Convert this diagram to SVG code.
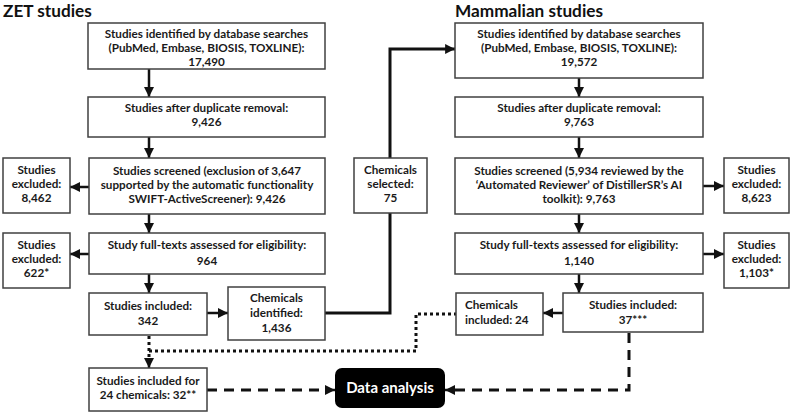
<svg xmlns="http://www.w3.org/2000/svg" width="800" height="413" viewBox="0 0 800 413">
<style>
.box{fill:#fff;stroke:#404040;stroke-width:1.5}
text{font-family:Lato,"Open Sans","Liberation Sans",sans-serif;font-weight:bold;fill:#1a1a1a;font-size:11.7px}
.c{text-anchor:middle}
.title{font-size:17.2px;fill:#111}
.ln{fill:none;stroke:#111;stroke-width:2.5}
.thick{fill:none;stroke:#111;stroke-width:3}
.dash{fill:none;stroke:#111;stroke-width:3;stroke-dasharray:10 7}
.dot{fill:none;stroke:#111;stroke-width:3;stroke-dasharray:3 3}
</style>
<defs>
<marker id="ah" viewBox="0 0 10 10" refX="10" refY="5" markerWidth="4" markerHeight="4" markerUnits="strokeWidth" orient="auto"><path d="M0,0L10,5L0,10z" fill="#111"/></marker>
<marker id="ah2" viewBox="0 0 10 10" refX="10" refY="5" markerWidth="3.3" markerHeight="3.3" markerUnits="strokeWidth" orient="auto"><path d="M0,0L10,5L0,10z" fill="#111"/></marker>
</defs>
<text x="3" y="17" class="title">ZET studies</text>
<text x="455" y="17" class="title">Mammalian studies</text>
<g id="connectors">
<path class="ln" d="M149,69V97" marker-end="url(#ah)"/>
<path class="ln" d="M149,137V158" marker-end="url(#ah)"/>
<path class="ln" d="M89,187H70" marker-end="url(#ah)"/>
<path class="ln" d="M149,214V233" marker-end="url(#ah)"/>
<path class="ln" d="M89,254H70" marker-end="url(#ah)"/>
<path class="ln" d="M149,274V293" marker-end="url(#ah)"/>
<path class="ln" d="M207,313H228" marker-end="url(#ah)"/>
<path class="thick" d="M325,313H390V49H455" marker-end="url(#ah2)"/>
<path class="ln" d="M579,78V97" marker-end="url(#ah)"/>
<path class="ln" d="M579,137V158" marker-end="url(#ah)"/>
<path class="ln" d="M703,186H724" marker-end="url(#ah)"/>
<path class="ln" d="M579,214V233" marker-end="url(#ah)"/>
<path class="ln" d="M703,254H724" marker-end="url(#ah)"/>
<path class="ln" d="M579,274V293" marker-end="url(#ah)"/>
<path class="ln" d="M563,313H543" marker-end="url(#ah)"/>
<path class="dot" d="M149,336V358"/>
<path class="ln" d="M149,358V368" marker-end="url(#ah)"/>
<path class="dot" d="M149,351H416V314H456"/>
<path class="dash" d="M207,390H329"/>
<path class="ln" d="M328,390H335" marker-end="url(#ah)"/>
<path class="dash" d="M629,333V390H451"/>
<path class="ln" d="M452,390H445" marker-end="url(#ah)"/>
</g>
<g id="zet1"><rect class="box" x="88" y="23" width="237" height="46"/>
<text class="c" x="206.5" y="38">Studies identified by database searches</text>
<text class="c" x="206.5" y="52">(PubMed, Embase, BIOSIS, TOXLINE):</text>
<text class="c" x="206.5" y="66">17,490</text></g>
<g id="zet2"><rect class="box" x="88" y="97" width="237" height="40"/>
<text class="c" x="206.5" y="112">Studies after duplicate removal:</text>
<text class="c" x="206.5" y="126">9,426</text></g>
<g id="zet3"><rect class="box" x="89" y="158" width="236" height="56"/>
<text class="c" x="207" y="175">Studies screened (exclusion of 3,647</text>
<text class="c" x="207" y="189">supported by the automatic functionality</text>
<text class="c" x="207" y="203">SWIFT-ActiveScreener): 9,426</text></g>
<g id="zetex1"><rect class="box" x="3" y="158" width="67" height="55"/>
<text class="c" x="36.5" y="174">Studies</text>
<text class="c" x="36.5" y="188">excluded:</text>
<text class="c" x="36.5" y="202">8,462</text></g>
<g id="zet4"><rect class="box" x="89" y="233" width="236" height="41"/>
<text class="c" x="207" y="249">Study full-texts assessed for eligibility:</text>
<text class="c" x="207" y="265">964</text></g>
<g id="zetex2"><rect class="box" x="3" y="233" width="67" height="55"/>
<text class="c" x="36.5" y="249">Studies</text>
<text class="c" x="36.5" y="263">excluded:</text>
<text class="c" x="36.5" y="277">622*</text></g>
<g id="zet5"><rect class="box" x="89" y="293" width="118" height="42"/>
<text class="c" x="148" y="310">Studies included:</text>
<text class="c" x="148" y="325">342</text></g>
<g id="chemid"><rect class="box" x="228" y="287" width="97" height="53"/>
<text class="c" x="276.5" y="302">Chemicals</text>
<text class="c" x="276.5" y="317">identified:</text>
<text class="c" x="276.5" y="332">1,436</text></g>
<g id="chemsel"><rect class="box" x="354" y="158" width="73" height="55"/>
<text class="c" x="390.5" y="174">Chemicals</text>
<text class="c" x="390.5" y="188">selected:</text>
<text class="c" x="390.5" y="202">75</text></g>
<g id="zet6"><rect class="box" x="89" y="368" width="118" height="43"/>
<text class="c" x="148" y="385">Studies included for</text>
<text class="c" x="148" y="399">24 chemicals: 32**</text></g>
<g id="data"><rect x="335" y="368" width="110" height="40" rx="7" fill="#000"/>
<text class="c" x="390" y="393" style="font-size:15px;fill:#fff">Data analysis</text></g>
<g id="mam1"><rect class="box" x="455" y="23" width="248" height="55"/>
<text class="c" x="579" y="38">Studies identified by database searches</text>
<text class="c" x="579" y="52">(PubMed, Embase, BIOSIS, TOXLINE):</text>
<text class="c" x="579" y="66">19,572</text></g>
<g id="mam2"><rect class="box" x="455" y="97" width="248" height="40"/>
<text class="c" x="579" y="112">Studies after duplicate removal:</text>
<text class="c" x="579" y="126">9,763</text></g>
<g id="mam3"><rect class="box" x="455" y="158" width="248" height="56"/>
<text class="c" x="579" y="175">Studies screened (5,934 reviewed by the</text>
<text class="c" x="579" y="189">‘Automated Reviewer’ of DistillerSR’s AI</text>
<text class="c" x="579" y="203">toolkit): 9,763</text></g>
<g id="mamex1"><rect class="box" x="724" y="158" width="65" height="55"/>
<text class="c" x="756.5" y="174">Studies</text>
<text class="c" x="756.5" y="188">excluded:</text>
<text class="c" x="756.5" y="202">8,623</text></g>
<g id="mam4"><rect class="box" x="455" y="233" width="248" height="41"/>
<text class="c" x="579" y="249">Study full-texts assessed for eligibility:</text>
<text class="c" x="579" y="265">1,140</text></g>
<g id="mamex2"><rect class="box" x="724" y="233" width="65" height="55"/>
<text class="c" x="756.5" y="249">Studies</text>
<text class="c" x="756.5" y="263">excluded:</text>
<text class="c" x="756.5" y="277">1,103*</text></g>
<g id="mam5"><rect class="box" x="563" y="293" width="140" height="39"/>
<text class="c" x="633" y="309">Studies included:</text>
<text class="c" x="633" y="324">37***</text></g>
<g id="chemin"><rect class="box" x="456" y="293" width="87" height="42"/>
<text x="465" y="309">Chemicals</text>
<text x="465" y="324">included: 24</text></g>
</svg>
